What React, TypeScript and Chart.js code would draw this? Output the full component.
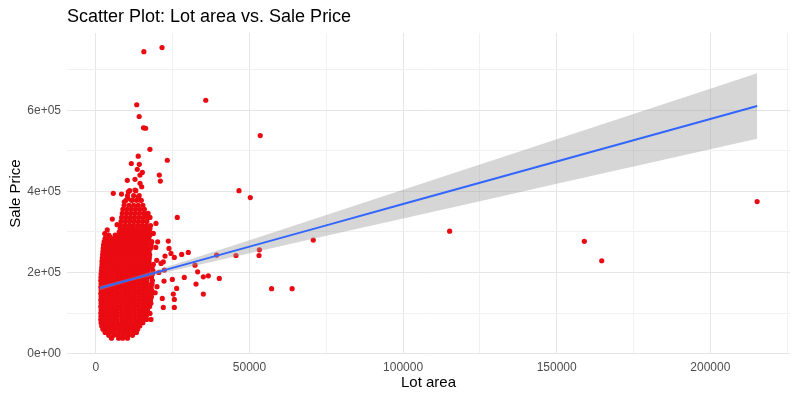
import React, { useEffect, useRef } from "react";
import { Chart, registerables } from "chart.js";

Chart.register(...registerables);

const TITLE = "Scatter Plot: Lot area vs. Sale Price";
const X_TITLE = "Lot area";
const Y_TITLE = "Sale Price";

// Scattered (non-cluster) observations
const outlierLotArea = [
  215245, 164660, 159000, 115149, 70761, 63887, 57200, 53504, 53227, 53107,
  50271, 46589, 45600, 39300, 35760, 21535, 15623, 13300, 14100, 15500,
  16200, 17600, 23250, 13800, 14140, 11540, 13480, 15120, 14360, 12740,
  10240, 20650, 20980, 14360, 14910, 5670, 8350, 10560, 12740, 13810,
  14360, 9260, 10350, 11860, 5350, 26500, 19570, 17620, 16530, 4600,
  18700, 20110, 23580, 23800, 22500, 24450, 25540, 27930, 30090, 21200,
  21950, 22280, 22180, 24890, 28780, 26300, 25210, 25540, 21620, 21950,
  25540, 17620, 17940, 32270, 33130, 32600, 34980, 34980, 40180, 36600,
  19500, 19800, 20500, 19900, 19300, 3700, 2900, 6900,
];
const outlierSalePrice = [
  375000, 228950, 277000, 302000, 280000, 160000, 160000, 538000, 256000, 242000,
  385000, 402000, 242000, 243000, 625000, 755000, 745000, 614000, 585000, 557000,
  556000, 504000, 477000, 487000, 467000, 469000, 454500, 447000, 440500, 430000,
  427400, 440500, 425500, 420000, 411600, 395300, 393600, 399200, 403400, 386900,
  378700, 374500, 383000, 378700, 331800, 336000, 321200, 336000, 344200, 288100,
  296500, 275800, 277500, 259500, 240500, 247200, 237300, 244700, 249600, 222500,
  226400, 205900, 178800, 182900, 187900, 160700, 146700, 133600, 136000, 113800,
  113800, 99000, 84200, 218200, 201700, 171400, 189400, 146700, 185400, 191800,
  262000, 230000, 200000, 165000, 150000, 305000, 296000, 318000,
];

// Dense cluster: each price level with the lot areas observed at it
const clusterPrice = [
  38000, 45000, 52000, 60000, 68000, 76000, 84000, 92000, 100000, 108000,
  116000, 124000, 132000, 140000, 148000, 156000, 164000, 172000, 180000, 188000,
  196000, 204000, 212000, 220000, 228000, 236000, 244000, 252000, 260000, 268000,
  276000, 284000, 292000, 300000, 308000, 316000, 326000, 336000, 346000, 356000,
  366000, 378000, 390000, 402000,
];
const clusterLots = [
  [5100, 7400, 8700, 10300],
  [4200, 5800, 7300, 8900, 10400, 11900],
  [3000, 4500, 6000, 7600, 9100, 10600, 12100, 13200],
  [2300, 3700, 5100, 6600, 8000, 9400, 10900, 12300, 13600],
  [1900, 3200, 4600, 6000, 7400, 8900, 10300, 11700, 13000, 14300],
  [1700, 2800, 4200, 5700, 7100, 8500, 9900, 11300, 12700, 14100, 15300],
  [1600, 2700, 4100, 5500, 6900, 8400, 9800, 11200, 12600, 14000, 15400, 16500],
  [1650, 2800, 4200, 5600, 7000, 8400, 9800, 11200, 12600, 14000, 15300, 16400],
  [1600, 2600, 4000, 5400, 6800, 8300, 9700, 11100, 12500, 13900, 15300, 16600],
  [1700, 2800, 4200, 5600, 7000, 8400, 9800, 11200, 12600, 14000, 15400, 16800],
  [1600, 2600, 4000, 5400, 6800, 8200, 9600, 11000, 12400, 13800, 15200, 16500, 17500],
  [1700, 2800, 4200, 5600, 7000, 8400, 9800, 11200, 12600, 14000, 15400, 16800, 17900],
  [1600, 2600, 4000, 5400, 6800, 8200, 9600, 11000, 12400, 13800, 15200, 16600, 17800],
  [1700, 2800, 4200, 5600, 7000, 8400, 9800, 11200, 12600, 14000, 15400, 16800, 18100],
  [1600, 2600, 4000, 5400, 6800, 8200, 9600, 11000, 12400, 13800, 15200, 16600, 18000],
  [1700, 2800, 4200, 5600, 7000, 8400, 9800, 11200, 12600, 14000, 15400, 16800, 18200],
  [1600, 2600, 4000, 5400, 6800, 8200, 9600, 11000, 12400, 13800, 15200, 16600, 18000],
  [1700, 2800, 4200, 5600, 7000, 8400, 9800, 11200, 12600, 14000, 15400, 16800, 18300],
  [1600, 2600, 4000, 5400, 6800, 8200, 9600, 11000, 12400, 13800, 15200, 16600, 18400],
  [1650, 2700, 4100, 5500, 6900, 8300, 9700, 11100, 12500, 13900, 15300, 16700, 18100],
  [1700, 2900, 4300, 5700, 7100, 8500, 9900, 11300, 12700, 14100, 15500, 16900, 18400],
  [1800, 3000, 4400, 5800, 7200, 8600, 10000, 11400, 12800, 14200, 15600, 17000, 18600],
  [1900, 3100, 4500, 5900, 7300, 8700, 10100, 11500, 12900, 14300, 15700, 17100, 18300],
  [2000, 3200, 4600, 6000, 7400, 8800, 10200, 11600, 13000, 14400, 15800, 17200, 18700],
  [2000, 3300, 4700, 6100, 7500, 8900, 10300, 11700, 13100, 14500, 15900, 17300],
  [2100, 3400, 4800, 6200, 7600, 9000, 10400, 11800, 13200, 14600, 16000, 17400],
  [2200, 3500, 4900, 6300, 7700, 9100, 10500, 11900, 13300, 14700, 16100, 17500],
  [2300, 3700, 5100, 6500, 7900, 9300, 10700, 12100, 13500, 14900, 16300, 17300],
  [2400, 3800, 5200, 6600, 8000, 9400, 10800, 12200, 13600, 15000, 16400, 17800],
  [2500, 3900, 5300, 6700, 8100, 9500, 10900, 12300, 13700, 15100, 16500, 18000],
  [2700, 4100, 5500, 6900, 8300, 9700, 11100, 12500, 13900, 15300, 16700, 18200],
  [3000, 4500, 6000, 7400, 8800, 10200, 11600, 13000, 14400, 15800, 17200],
  [4200, 6300, 7800, 9200, 10600, 12000, 13400, 14800, 16200, 17600],
  [7600, 9000, 10400, 11800, 13200, 14600, 16000, 17400],
  [7900, 9300, 10700, 12100, 13500, 14900, 16300, 17600],
  [8000, 9400, 10800, 12200, 13600, 15000, 16400, 17800],
  [8200, 9600, 11000, 12400, 13800, 15200, 16600],
  [8400, 9800, 11200, 12600, 14000, 15400, 16800],
  [8600, 10000, 11400, 12800, 14200, 15600, 17000],
  [8800, 10200, 11600, 13000, 14400, 15800],
  [9200, 10800, 12300, 13800, 15300],
  [9800, 11600, 13200, 14800],
  [10300, 12300, 14100],
  [11000, 13000],
];

// Linear fit and its 95% confidence band, read at these lot areas
const fitLotArea = [1300, 10500, 25000, 50000, 75000, 100000, 125000, 150000, 175000, 200000, 215245];
const fitSalePrice = [161566, 180886, 211334, 263831, 316329, 368826, 421324, 473821, 526319, 578816, 610829];
const bandLower = [156216, 176956, 204404, 247791, 290629, 333356, 376054, 418731, 461399, 504066, 530079];
const bandUpper = [166916, 184816, 218264, 279871, 342029, 404296, 466594, 528911, 591239, 653566, 691579];

// Axes
const xMin = -9397;
const xMax = 225942;
const yMin = -1105;
const yMax = 791005;
const xGrid = [0, 25000, 50000, 75000, 100000, 125000, 150000, 175000, 200000, 225000];
const xTickValues = [0, 50000, 100000, 150000, 200000];
const xTickLabels = ["0", "50000", "100000", "150000", "200000"];
const yGrid = [0, 100000, 200000, 300000, 400000, 500000, 600000, 700000];
const yTickValues = [0, 200000, 400000, 600000];
const yTickLabels = ["0e+00", "2e+05", "4e+05", "6e+05"];

const FONT = 'Arial, "Liberation Sans", sans-serif';

const textPlugin = {
  id: "ggTexts",
  afterDraw(chart: any) {
    const ctx = chart.ctx;
    const a = chart.chartArea;
    ctx.save();
    ctx.fillStyle = "#000000";
    ctx.font = `18px ${FONT}`;
    ctx.textAlign = "left";
    ctx.textBaseline = "alphabetic";
    ctx.fillText(TITLE, a.left, 22);
    ctx.font = `15px ${FONT}`;
    ctx.textAlign = "center";
    ctx.textBaseline = "middle";
    ctx.fillText(X_TITLE, (a.left + a.right) / 2, 383);
    ctx.translate(16, (a.top + a.bottom) / 2);
    ctx.rotate(-Math.PI / 2);
    ctx.fillText(Y_TITLE, 0, 0);
    ctx.restore();
  },
};

export default function App() {
  const canvasRef = useRef<HTMLCanvasElement | null>(null);

  useEffect(() => {
    const canvas = canvasRef.current;
    if (!canvas) return;

    const points: { x: number; y: number }[] = [];
    clusterPrice.forEach((p, i) => {
      clusterLots[i].forEach((lot) => points.push({ x: lot, y: p }));
    });
    outlierLotArea.forEach((lot, i) => points.push({ x: lot, y: outlierSalePrice[i] }));

    const fitData = fitLotArea.map((x, i) => ({ x, y: fitSalePrice[i] }));
    const upperData = fitLotArea.map((x, i) => ({ x, y: bandUpper[i] }));
    const lowerData = fitLotArea.map((x, i) => ({ x, y: bandLower[i] }));

    const gridColor = (vals: number[]) => (c: any) =>
      c.tick && vals.includes(c.tick.value) ? "#E6E6E6" : "#F1F1F1";

    const chart = new Chart(canvas, {
      type: "scatter",
      data: {
        datasets: [
          {
            type: "scatter",
            data: points,
            pointRadius: 2.6,
            pointHoverRadius: 2.6,
            backgroundColor: "#EA0B12",
            borderWidth: 0,
            order: 3,
          } as any,
          {
            type: "line",
            data: upperData,
            pointRadius: 0,
            borderWidth: 0,
            borderColor: "rgba(0,0,0,0)",
            backgroundColor: "rgba(153,153,153,0.4)",
            fill: "+1",
            tension: 0,
            order: 2,
          } as any,
          {
            type: "line",
            data: lowerData,
            pointRadius: 0,
            borderWidth: 0,
            borderColor: "rgba(0,0,0,0)",
            fill: false,
            tension: 0,
            order: 2,
          } as any,
          {
            type: "line",
            data: fitData,
            pointRadius: 0,
            borderWidth: 2,
            borderColor: "#3366FF",
            fill: false,
            tension: 0,
            order: 1,
          } as any,
        ],
      },
      options: {
        responsive: false,
        animation: false,
        devicePixelRatio: 1,
        layout: { padding: { top: 33, right: 10, left: 0, bottom: 0 } },
        plugins: {
          legend: { display: false },
          title: { display: false },
          tooltip: { enabled: false },
        },
        scales: {
          x: {
            type: "linear",
            min: xMin,
            max: xMax,
            afterBuildTicks: (s: any) => {
              s.ticks = xGrid.map((v) => ({ value: v }));
            },
            afterFit: (s: any) => {
              s.height = 44;
            },
            border: { display: false },
            grid: { color: gridColor(xTickValues), lineWidth: 1, drawTicks: false },
            ticks: {
              autoSkip: false,
              maxRotation: 0,
              padding: 6,
              color: "#4D4D4D",
              font: { family: FONT, size: 12 },
              callback: (v: any) => {
                const i = xTickValues.indexOf(Number(v));
                return i >= 0 ? xTickLabels[i] : "";
              },
            },
          },
          y: {
            type: "linear",
            min: yMin,
            max: yMax,
            afterBuildTicks: (s: any) => {
              s.ticks = yGrid.map((v) => ({ value: v }));
            },
            afterFit: (s: any) => {
              s.width = 67;
            },
            border: { display: false },
            grid: { color: gridColor(yTickValues), lineWidth: 1, drawTicks: false },
            ticks: {
              autoSkip: false,
              padding: 6,
              color: "#4D4D4D",
              font: { family: FONT, size: 12 },
              callback: (v: any) => {
                const i = yTickValues.indexOf(Number(v));
                return i >= 0 ? yTickLabels[i] : "";
              },
            },
          },
        },
      } as any,
      plugins: [textPlugin],
    });

    return () => chart.destroy();
  }, []);

  return (
    <div
      style={{
        position: "fixed",
        left: 0,
        top: 0,
        width: 800,
        height: 398,
        background: "#FFFFFF",
      }}
    >
      <canvas ref={canvasRef} width={800} height={398} style={{ display: "block" }} />
    </div>
  );
}
